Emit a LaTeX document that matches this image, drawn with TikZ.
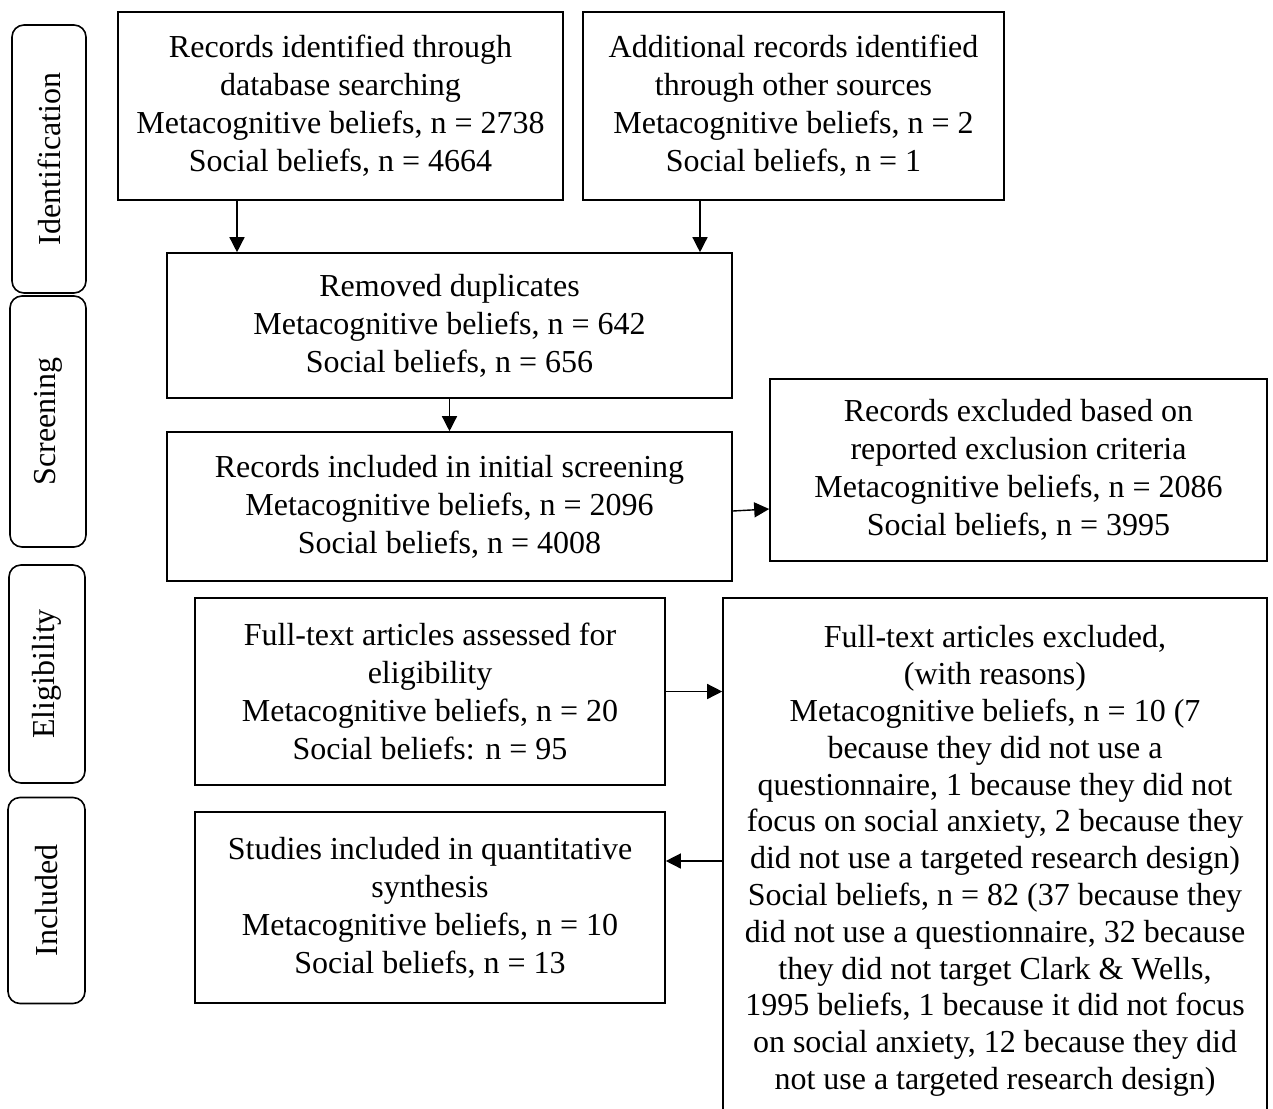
\documentclass[tikz,border=0pt]{standalone}
\usepackage{fontspec}
\setmainfont{Liberation Serif}
\usetikzlibrary{arrows.meta}

\begin{document}
\begin{tikzpicture}[x=0.5pt, y=-0.5pt,
  font=\fontsize{16}{19}\selectfont,
  box/.style={draw, rectangle, line width=0.8pt, align=center, inner sep=2pt},
  phase/.style={draw, rectangle, rounded corners=6pt, line width=0.8pt, rotate=90, inner sep=2pt},
  arr/.style={-{Triangle[length=7.5pt, width=7.5pt]}, line width=0.7pt}]
\useasboundingbox (0,0) rectangle (1273,1108);

% Phases
\node[phase, minimum width=134pt, minimum height=37pt] (ident) at (49,159) {Identification};
\node[phase, minimum width=125.5pt, minimum height=38pt] (screen) at (48,421.5) {Screening};
\node[phase, minimum width=109pt, minimum height=38pt] (elig) at (47,674) {Eligibility};
\node[phase, minimum width=103pt, minimum height=38.5pt] (incl) at (46.5,900.5) {Included};

% Identification
\node[box, minimum width=222.5pt, minimum height=94pt] (database) at (340.5,106) {Records identified through\\database searching\\Metacognitive beliefs, n = 2738\\Social beliefs, n = 4664};
\node[box, minimum width=210.5pt, minimum height=94pt] (other) at (793.5,106) {Additional records identified\\through other sources\\Metacognitive beliefs, n = 2\\Social beliefs, n = 1};

% Screening
\node[box, minimum width=282.5pt, minimum height=72.5pt] (duplicates) at (449.5,325.5) {Removed duplicates\\Metacognitive beliefs, n = 642\\Social beliefs, n = 656};
\node[box, minimum width=282.5pt, minimum height=74.5pt] (screened) at (449.5,506.5) {Records included in initial screening\\Metacognitive beliefs, n = 2096\\Social beliefs, n = 4008};
\node[box, minimum width=248.5pt, minimum height=91pt] (recexcl) at (1018.5,470) {Records excluded based on\\reported exclusion criteria\\Metacognitive beliefs, n = 2086\\Social beliefs, n = 3995};

% Eligibility
\node[box, minimum width=235pt, minimum height=93.5pt] (fulltext) at (430,691.5) {Full-text articles assessed for\\eligibility\\Metacognitive beliefs, n = 20\\Social beliefs: n = 95};
\node[box, minimum width=272pt, minimum height=263pt, font=\fontsize{16}{18.4}\selectfont] (ftexcl) at (995,861) {Full-text articles excluded,\\(with reasons)\\Metacognitive beliefs, n = 10 (7\\because they did not use a\\questionnaire, 1 because they did not\\focus on social anxiety, 2 because they\\did not use a targeted research design)\\Social beliefs, n = 82 (37 because they\\did not use a questionnaire, 32 because\\they did not target Clark \& Wells,\\1995 beliefs, 1 because it did not focus\\on social anxiety, 12 because they did\\not use a targeted research design)};

% Included
\node[box, minimum width=235pt, minimum height=95.5pt] (studies) at (430,907.5) {Studies included in quantitative\\synthesis\\Metacognitive beliefs, n = 10\\Social beliefs, n = 13};

% Arrows
\draw[arr] (database.south -| 237,0) -- (duplicates.north -| 237,0);
\draw[arr] (other.south -| 700,0) -- (duplicates.north -| 700,0);
\draw[arr] (duplicates.south) -- (screened.north);
\draw[arr] (screened.east |- 0,511) -- (recexcl.west |- 0,509);
\draw[arr] (fulltext.east) -- (fulltext.east -| ftexcl.west);
\draw[arr] (ftexcl.west) -- (ftexcl.west -| studies.east);
\end{tikzpicture}
\end{document}
